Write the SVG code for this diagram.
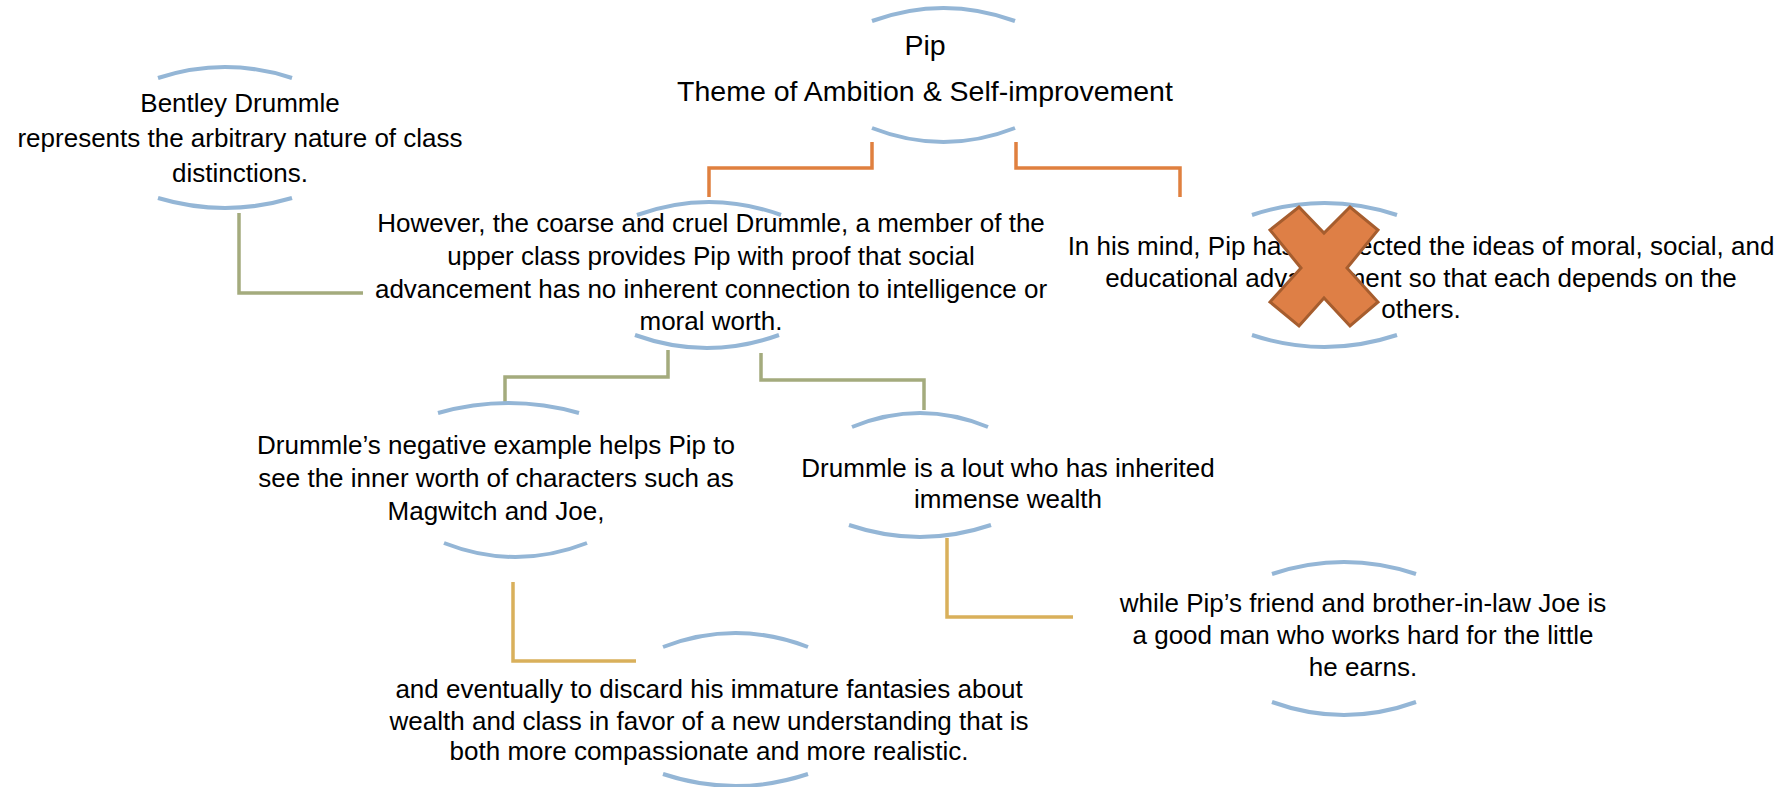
<svg xmlns="http://www.w3.org/2000/svg" width="1788" height="787" viewBox="0 0 1788 787">
<style>
.arc{fill:none;stroke:#94B6D6;stroke-width:4}
.t{font-family:"Liberation Sans",Arial,sans-serif;font-size:26px;fill:#000;text-anchor:middle}
.big{font-size:28.5px}
.or{fill:none;stroke:#E0803F;stroke-width:3.5}
.ol{fill:none;stroke:#A4AB7D;stroke-width:3.5}
.go{fill:none;stroke:#D9B05B;stroke-width:3.5}
</style>
<rect width="1788" height="787" fill="#fff"/>
<g id="connectors">
<path class="or" d="M872,142 V168 H709 V197"/>
<path class="or" d="M1016,142 V168 H1180 V197"/>
<path class="ol" d="M239,213 V293 H363"/>
<path class="ol" d="M668,350 V377 H505 V402"/>
<path class="ol" d="M761,353 V380 H924 V410"/>
<path class="go" d="M947,538 V617 H1073"/>
<path class="go" d="M513,582 V661 H636"/>
</g>
<g id="node-pip">
<path class="arc" d="M872,21 Q943.5,-5 1015,21"/>
<text class="t big" x="925" y="55">Pip</text>
<text class="t big" x="925" y="101">Theme of Ambition &amp; Self-improvement</text>
<path class="arc" d="M872,128 Q943.5,156 1015,128"/>
</g>
<g id="node-bentley">
<path class="arc" d="M158,78 Q225,56 292,78"/>
<text class="t" x="240" y="112">Bentley Drummle</text>
<text class="t" x="240" y="147">represents the arbitrary nature of class</text>
<text class="t" x="240" y="182">distinctions.</text>
<path class="arc" d="M158,198 Q225,218 292,198"/>
</g>
<g id="node-however">
<path class="arc" d="M637,215 Q709,189 781,215"/>
<text class="t" x="711" y="232">However, the coarse and cruel Drummle, a member of the</text>
<text class="t" x="711" y="265">upper class provides Pip with proof that social</text>
<text class="t" x="711" y="298">advancement has no inherent connection to intelligence or</text>
<text class="t" x="711" y="330">moral worth.</text>
<path class="arc" d="M635,335 Q707,361 779,335"/>
</g>
<g id="node-mind">
<path class="arc" d="M1252,215 Q1324.5,191 1397,215"/>
<text class="t" x="1421" y="255">In his mind, Pip has connected the ideas of moral, social, and</text>
<text class="t" x="1421" y="287">educational advancement so that each depends on the</text>
<text class="t" x="1421" y="318">others.</text>
<path class="arc" d="M1252,335 Q1324.5,359 1397,335"/>
<polygon points="1299,207 1324,233 1350,207 1378,230 1347,268 1378,302 1350,326 1324,298 1299,326 1270,302 1301,268 1270,230" fill="#DE7F46" stroke="#A65D2E" stroke-width="3" stroke-linejoin="miter"/>
</g>
<g id="node-negative">
<path class="arc" d="M438,413 Q508.5,393 579,413"/>
<text class="t" x="496" y="454">Drummle’s negative example helps Pip to</text>
<text class="t" x="496" y="487">see the inner worth of characters such as</text>
<text class="t" x="496" y="520">Magwitch and Joe,</text>
<path class="arc" d="M444,543 Q515.5,571 587,543"/>
</g>
<g id="node-lout">
<path class="arc" d="M852,427 Q920,399 988,427"/>
<text class="t" x="1008" y="477">Drummle is a lout who has inherited</text>
<text class="t" x="1008" y="508">immense wealth</text>
<path class="arc" d="M849,525 Q920,549 991,525"/>
</g>
<g id="node-eventually">
<path class="arc" d="M663,647 Q735.5,619 808,647"/>
<text class="t" x="709" y="698">and eventually to discard his immature fantasies about</text>
<text class="t" x="709" y="730">wealth and class in favor of a new understanding that is</text>
<text class="t" x="709" y="760">both more compassionate and more realistic.</text>
<path class="arc" d="M663,774 Q735.5,798 808,774"/>
</g>
<g id="node-joe">
<path class="arc" d="M1272,574 Q1344,550 1416,574"/>
<text class="t" x="1363" y="612">while Pip’s friend and brother-in-law Joe is</text>
<text class="t" x="1363" y="644">a good man who works hard for the little</text>
<text class="t" x="1363" y="676">he earns.</text>
<path class="arc" d="M1272,702 Q1344,728 1416,702"/>
</g>
</svg>
